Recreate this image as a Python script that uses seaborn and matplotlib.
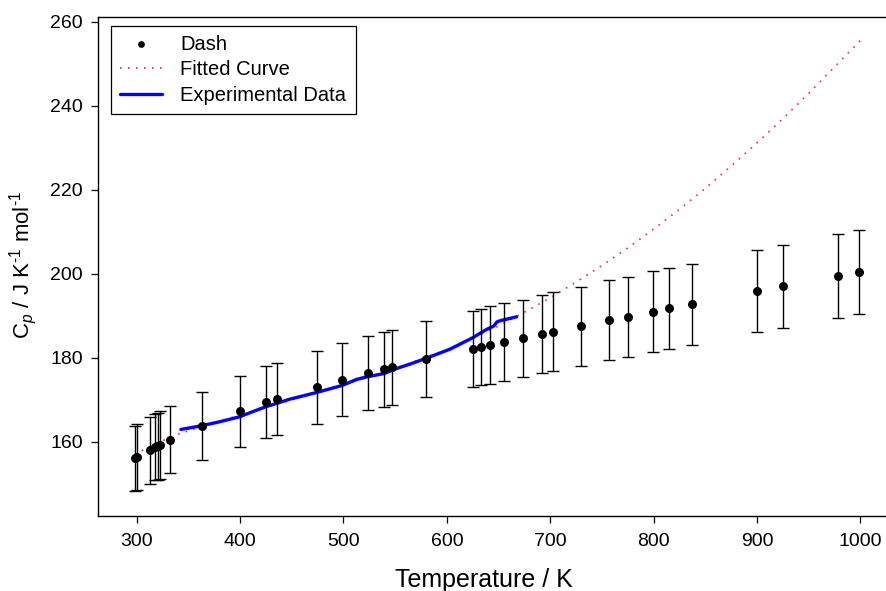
import matplotlib
matplotlib.use("Agg")
import matplotlib.pyplot as plt
import seaborn as sns

# Heat capacity points with uncertainty bars
temp_k = [298, 300, 313, 318, 320.5, 323, 332, 363, 400, 425, 435.5, 474, 499,
          524, 539, 547, 580, 625, 633, 642, 655, 673.5, 692.5, 702.5, 730,
          757, 775, 799, 815, 837, 900, 925, 978, 999]
cp_dash = [156.1, 156.4, 158.0, 158.8, 159.0, 159.3, 160.5, 163.8, 167.3, 169.5,
           170.2, 173.0, 174.8, 176.4, 177.3, 177.8, 179.7, 182.1, 182.6, 183.1,
           183.8, 184.7, 185.8, 186.3, 187.6, 189.0, 189.8, 191.0, 191.8, 192.8,
           195.9, 197.1, 199.5, 200.4]
cp_err = [7.8, 7.8, 7.9, 7.9, 8.0, 8.0, 8.0, 8.2, 8.4, 8.5, 8.5, 8.7, 8.7, 8.8,
          8.9, 8.9, 9.0, 9.1, 9.1, 9.2, 9.2, 9.2, 9.3, 9.3, 9.4, 9.5, 9.5, 9.6,
          9.6, 9.6, 9.8, 9.9, 10.0, 10.0]

# Fitted heat capacity curve
fit_t = [298, 320, 340, 360, 400, 450, 500, 550, 600, 650, 675, 700, 725, 750,
         775, 800, 825, 850, 875, 900, 925, 950, 975, 1000]
fit_cp = [157.0, 159.8, 161.8, 163.5, 166.4, 170.0, 173.6, 177.5, 182.0, 187.6,
          190.9, 194.3, 198.1, 202.0, 206.2, 210.7, 215.4, 220.4, 225.7, 231.2,
          237.0, 243.0, 249.3, 255.6]

# Experimental heat capacity trace
exp_t = [342.8, 350, 363.4, 380, 399.6, 412, 425.0, 448.2, 474.3, 499.2, 512.7,
         524.3, 539.4, 551.4, 565, 579.7, 603, 624.9, 638.4, 645.4, 648.5,
         652, 667.4]
exp_cp = [163.0, 163.3, 163.9, 164.8, 166.0, 167.2, 168.4, 170.2, 171.8, 173.5,
          174.9, 175.6, 176.3, 177.5, 178.6, 179.9, 182.1, 184.8, 186.8, 187.6,
          188.6, 188.9, 189.8]

x_ticks = [300, 400, 500, 600, 700, 800, 900, 1000]
y_ticks = [160, 180, 200, 220, 240, 260]

sns.set_style("ticks")
plt.rcParams["font.family"] = ["Liberation Sans", "DejaVu Sans"]
plt.rcParams["mathtext.fontset"] = "custom"
plt.rcParams["mathtext.rm"] = "Liberation Sans"
plt.rcParams["mathtext.it"] = "Liberation Sans:italic"
plt.rcParams["text.color"] = "black"
plt.rcParams["axes.edgecolor"] = "black"
plt.rcParams["xtick.color"] = "black"
plt.rcParams["ytick.color"] = "black"

W, H = 886, 591
fig = plt.figure(figsize=(W / 100, H / 100), dpi=100)
left, right, top, bottom = 98.3, 890.0, 16.7, 515.7
ax = fig.add_axes([left / W, 1 - bottom / H, (right - left) / W, (bottom - top) / H])

sns.lineplot(x=fit_t, y=fit_cp, ax=ax, color="#ff2a2a", linewidth=1.2,
             label="Fitted Curve", sort=False, estimator=None, zorder=2)
ax.lines[-1].set_linestyle((0, (1, 3.8)))
sns.lineplot(x=exp_t, y=exp_cp, ax=ax, color="#0000ff", linewidth=2.4,
             label="Experimental Data", sort=False, estimator=None, zorder=3)
ax.errorbar(temp_k, cp_dash, yerr=cp_err, fmt="none", ecolor="black",
            elinewidth=1.0, capsize=4, capthick=1.0, zorder=4)
sns.scatterplot(x=temp_k, y=cp_dash, ax=ax, color="black", s=42, linewidth=0,
                label="Dash", zorder=5)

ax.set_xlim(262.9, 1028.6)
ax.set_ylim(142.45, 261.26)
ax.set_xticks(x_ticks)
ax.set_yticks(y_ticks)
ax.tick_params(axis="both", direction="out", length=5, width=0.9, labelsize=14)
ax.tick_params(axis="x", pad=7.5)
ax.tick_params(axis="y", pad=6)
for side in ["left", "bottom", "top"]:
    ax.spines[side].set_linewidth(1.0)
    ax.spines[side].set_color("black")
ax.spines["right"].set_visible(False)
ax.set_xlabel("")
ax.set_ylabel("")

handles, labels = ax.get_legend_handles_labels()
order = ["Dash", "Fitted Curve", "Experimental Data"]
hmap = dict(zip(labels, handles))
leg = ax.legend([hmap[k] for k in order], order, loc="upper left",
                bbox_to_anchor=(111 / W, 1 - 25.7 / H), bbox_transform=fig.transFigure,
                borderaxespad=0, fontsize=14.5, frameon=True, fancybox=False,
                framealpha=1, edgecolor="black", borderpad=0.45, handlelength=2.1,
                handletextpad=0.9, labelspacing=0.32, markerscale=0.75)
leg.get_frame().set_linewidth(0.9)

fig.text(484 / W, 1 - 587 / H, "Temperature / K", ha="center", va="baseline",
         fontsize=18)
fig.text(23 / W, 1 - 265 / H,
         r"C$_{p}$ / J K$^{\text{-1}}$ mol$^{\text{-1}}$",
         ha="center", va="center", rotation=90, fontsize=16)

fig.savefig("out.png", dpi=100)
